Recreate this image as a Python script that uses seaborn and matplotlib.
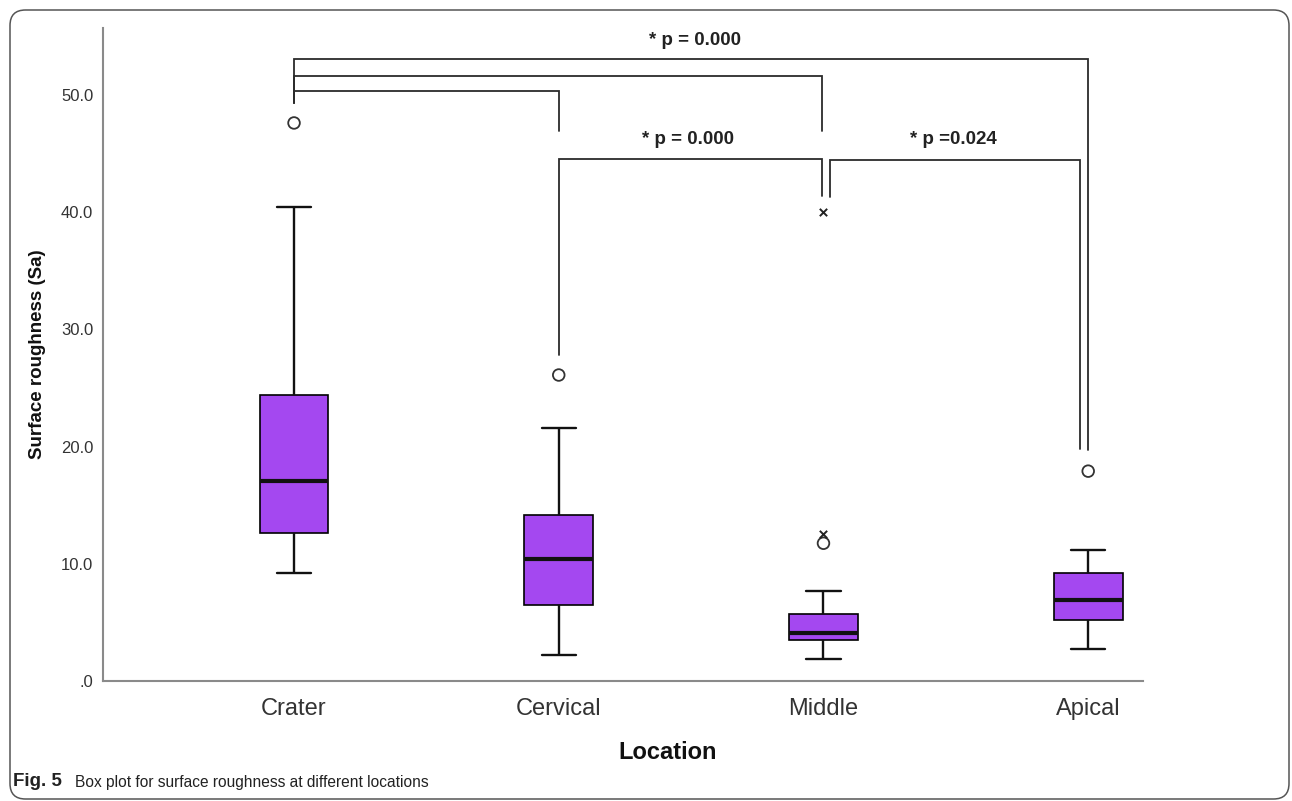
import numpy as np
import pandas as pd
import matplotlib
matplotlib.use("Agg")
import matplotlib.pyplot as plt
from matplotlib import font_manager
from matplotlib.patches import FancyBboxPatch
import seaborn as sns

LOCATIONS = ["Crater", "Cervical", "Middle", "Apical"]
# box summaries
WHISKER_LOW = [9.2, 2.2, 1.85, 2.7]
Q1 = [12.6, 6.5, 3.5, 5.2]
MEDIAN = [17.1, 10.4, 4.1, 6.9]
Q3 = [24.4, 14.2, 5.7, 9.2]
WHISKER_HIGH = [40.4, 21.6, 7.7, 11.2]

# outliers (o) and extremes (x)
OUTLIER_LOC = ["Crater", "Cervical", "Middle", "Apical"]
OUTLIER_VAL = [47.6, 26.1, 11.75, 17.9]
EXTREME_LOC = ["Middle", "Middle"]
EXTREME_VAL = [12.5, 40.0]

P_LABELS = ["* p = 0.000", "* p = 0.000", "* p =0.024"]

PURPLE = "#A448F0"

names = {f.name for f in font_manager.fontManager.ttflist}
NARROW = "Liberation Sans Narrow" if "Liberation Sans Narrow" in names else "Liberation Sans"
narrow_ok = NARROW == "Liberation Sans Narrow"

sns.set_theme(style="white")
plt.rcParams["font.family"] = ["Liberation Sans", "DejaVu Sans"]

# 5 points per group -> quartiles land exactly on the read values
rows = []
for i, loc in enumerate(LOCATIONS):
    for v in (WHISKER_LOW[i], Q1[i], MEDIAN[i], Q3[i], WHISKER_HIGH[i]):
        rows.append({"Location": loc, "Sa": v})
df = pd.DataFrame(rows)

fig = plt.figure(figsize=(12.92, 8.01), dpi=100)
ax = fig.add_axes([103 / 1292, 1 - 681 / 801, 1040 / 1292, 653 / 801])

sns.boxplot(data=df, x="Location", y="Sa", order=LOCATIONS, ax=ax,
            whis=(0, 100), width=0.26, color=PURPLE, saturation=1,
            linecolor="black", linewidth=1.2, showfliers=False,
            medianprops=dict(linewidth=3.0, color="#111111"),
            whiskerprops=dict(linewidth=1.7, color="#111111"),
            capprops=dict(linewidth=1.7, color="#111111"))

pos = {loc: i for i, loc in enumerate(LOCATIONS)}
ax.scatter([pos[l] for l in OUTLIER_LOC], OUTLIER_VAL, s=70, marker="o",
           facecolors="none", edgecolors="#333333", linewidths=1.3, zorder=5)
ax.scatter([pos[l] for l in EXTREME_LOC], EXTREME_VAL, s=28, marker="x",
           color="#222222", linewidths=1.4, zorder=5)

# significance brackets: x1, x2, bar height, leg ends
brackets = [
    (0.0, 3.0, 53.05, 49.3, 19.7),
    (0.0, 1.995, 51.6, 49.3, 46.9),
    (0.0, 1.0, 50.35, 49.3, 46.9),
    (1.0, 1.995, 44.55, 27.8, 41.4),
    (2.025, 2.97, 44.4, 41.3, 19.8),
]
for x1, x2, yb, y1, y2 in brackets:
    ax.plot([x1, x1, x2, x2], [y1, yb, yb, y2], color="#2b2b2b", lw=1.3,
            solid_joinstyle="miter", zorder=4)

tsize = 16 if narrow_ok else 13.5
for (tx, ty), lab in zip([(1.515, 54.6), (1.488, 46.2), (2.49, 46.2)], P_LABELS):
    ax.text(tx, ty, lab, ha="center", va="center", fontsize=tsize,
            fontweight="bold", family=[NARROW, "DejaVu Sans"], color="#222222")

ax.set_xlim(-0.7216, 3.207)
ax.set_ylim(0, 55.7)
ax.set_yticks([0, 10, 20, 30, 40, 50])
ax.set_yticklabels([".0", "10.0", "20.0", "30.0", "40.0", "50.0"])
ax.tick_params(axis="y", length=0, pad=7, labelsize=12, labelcolor="#333333")
ax.tick_params(axis="x", length=0, pad=12, labelsize=17, labelcolor="#333333")

ax.set_xlabel("Location", fontsize=17, fontweight="bold", color="#111111")
ax.xaxis.set_label_coords(0.543, -0.092)
ax.set_ylabel("Surface roughness (Sa)", fontsize=13.5, fontweight="bold",
              labelpad=11, color="#111111")

sns.despine(ax=ax)
for side in ("left", "bottom"):
    ax.spines[side].set_color("#8a8a8a")
    ax.spines[side].set_linewidth(1.5)

# caption and rounded frame
fig.text(13 / 1292, 1 - 782 / 801, "Fig. 5", fontsize=13.5, fontweight="bold",
         family=[NARROW, "DejaVu Sans"], va="center", color="#222222")
fig.text(75 / 1292, 1 - 782 / 801, "Box plot for surface roughness at different locations",
         fontsize=11.2, family=[NARROW, "DejaVu Sans"], va="center", color="#222222")

frame = FancyBboxPatch((10 / 1292, 2 / 801), 1279 / 1292, 789 / 801,
                       boxstyle="round,pad=0,rounding_size=0.012",
                       mutation_aspect=1292 / 801, transform=fig.transFigure,
                       fill=False, ec="#555555", lw=1.1)
fig.patches.append(frame)

fig.savefig("out.png", dpi=100)
